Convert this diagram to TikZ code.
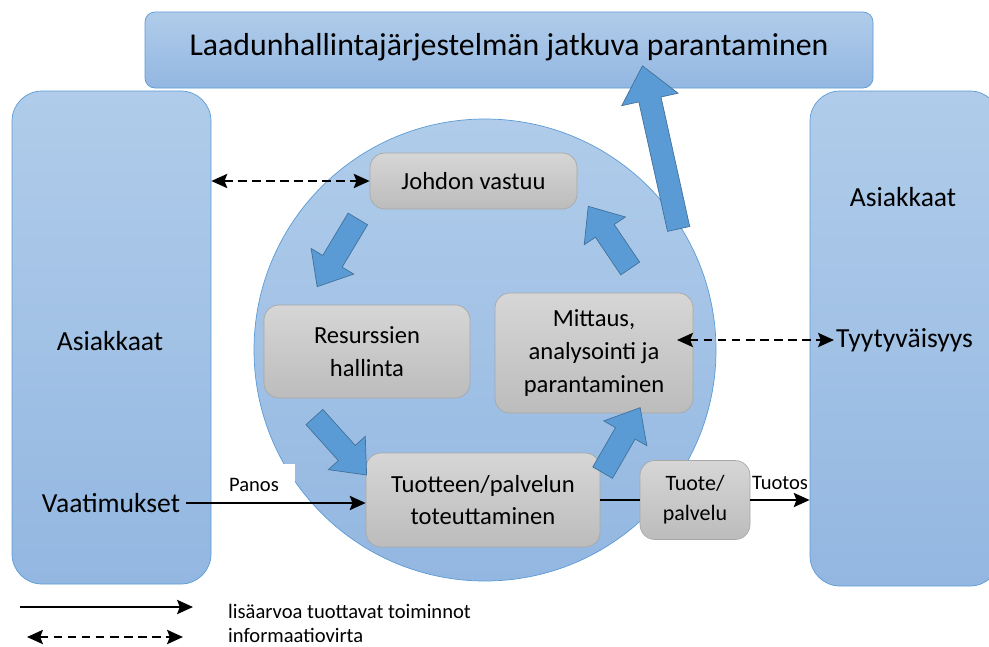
\documentclass[tikz,border=0pt]{standalone}
\usepackage{fontspec}
\setmainfont{Carlito}
\usetikzlibrary{arrows.meta, shapes.arrows}

\definecolor{boxblue}{HTML}{5B9BD5}
\definecolor{boxtop}{HTML}{B0CCEA}
\definecolor{boxbot}{HTML}{93B7E1}
\definecolor{graytop}{HTML}{D6D6D6}
\definecolor{graybot}{HTML}{BCBCBC}
\definecolor{grayline}{HTML}{A8A8A8}
\definecolor{arrowline}{HTML}{41719C}

\begin{document}
\begin{tikzpicture}[x=0.02cm, y=-0.02cm, >={Stealth[length=9pt, width=8pt, inset=1.5pt]},
    bluebox/.style={draw=boxblue, top color=boxtop, bottom color=boxbot, rounded corners=30*0.02cm},
    graybox/.style={draw=grayline, top color=graytop, bottom color=graybot, rounded corners=0.3cm, align=center, font=\fontsize{14}{18.7}\selectfont},
    blockarrow/.style={single arrow, draw=arrowline, fill=boxblue, inner xsep=0pt, inner ysep=0.22cm, single arrow head extend=0.27cm, single arrow tip angle=80},
    flow/.style={->, line width=1.4pt},
    info/.style={<->, line width=1.4pt, dash pattern=on 5pt off 3pt},
    bigtext/.style={font=\fontsize{15.7}{18}\selectfont},
    smalltext/.style={font=\fontsize{11.7}{14}\selectfont}]
    \useasboundingbox (0,0) rectangle (989,646);

    % Define outer boxes
    \node[bluebox, rounded corners=0.2cm, minimum width=728*0.02cm, minimum height=76*0.02cm] (title) at (509,50) {};
    \node[font=\fontsize{18.1}{21}\selectfont] (titletext) at (509,47) {Laadunhallintajärjestelmän jatkuva parantaminen};
    \node[bluebox, minimum width=199*0.02cm, minimum height=493*0.02cm] (asL) at (111.5,337.5) {};
    \node[bluebox, minimum width=190*0.02cm, minimum height=495*0.02cm] (asR) at (905,338.5) {};
    \node[bigtext] (asLtext) at (110,341) {Asiakkaat};
    \node[bigtext] (vaat) at (111,503) {Vaatimukset};
    \node[bigtext] (asRtext) at (903,197) {Asiakkaat};
    \node[bigtext, anchor=west, inner sep=1pt] (tyyt) at (834,340) {Tyytyväisyys};

    % Define process circle and steps
    \node[circle, draw=boxblue, top color=boxtop, bottom color=boxbot, minimum size=462*0.02cm] (prosessi) at (485,350) {};
    \node[graybox, minimum width=207*0.02cm, minimum height=56*0.02cm] (johto) at (473.5,181) {Johdon vastuu};
    \node[graybox, minimum width=206*0.02cm, minimum height=93*0.02cm] (resurssit) at (367,351.5) {Resurssien\\hallinta};
    \node[graybox, minimum width=198*0.02cm, minimum height=120*0.02cm] (mittaus) at (594,353) {Mittaus,\\analysointi ja\\parantaminen};
    \node[graybox, minimum width=234*0.02cm, minimum height=94*0.02cm] (toteutus) at (483,500) {Tuotteen/palvelun\\toteuttaminen};
    \node[graybox, minimum width=110*0.02cm, minimum height=79*0.02cm, font=\fontsize{12.5}{17}\selectfont] (tuote) at (695,500) {Tuote/\\palvelu};

    % Define cycle arrows
    \node[blockarrow, minimum height=79*0.02cm, rotate=239] (a1) at (341,247) {};
    \node[blockarrow, minimum height=78*0.02cm, rotate=-48] (a2) at (336,441) {};
    \node[blockarrow, minimum height=75*0.02cm, rotate=60] (a3) at (618,446) {};
    \node[blockarrow, minimum height=75*0.02cm, rotate=124] (a4) at (613,243) {};
    \node[blockarrow, minimum height=167*0.02cm, single arrow head extend=0.35cm, rotate=102.5] (a5) at (662,154) {};

    % Draw information flows
    \coordinate (mitin) at (677,340);
    \draw[info] (asL.east |- johto) -- (johto.west);
    \draw[info] (mitin) -- (tyyt.west);

    % Draw value adding flows
    \node[fill=white, minimum width=82*0.02cm, minimum height=42*0.02cm, anchor=south, smalltext] (panos) at (254,506) {Panos};
    \draw[flow] (vaat.east) -- (vaat.east -| toteutus.west);
    \draw[line width=1.4pt] (toteutus.east |- tuote) -- (tuote.west);
    \draw[flow] (tuote.east) -- (tuote.east -| asR.west) node[midway, above=2pt, smalltext] (tuotos) {Tuotos};

    % Legend
    \coordinate (l1a) at (20,607);
    \coordinate (l1b) at (193,607);
    \coordinate (l2a) at (27,637);
    \coordinate (l2b) at (183,637);
    \draw[flow] (l1a) -- (l1b);
    \draw[info] (l2a) -- (l2b);
    \node[anchor=west, smalltext] (leg1) at (222,611) {lisäarvoa tuottavat toiminnot};
    \node[anchor=west, smalltext] (leg2) at (222,635) {informaatiovirta};
\end{tikzpicture}
\end{document}
